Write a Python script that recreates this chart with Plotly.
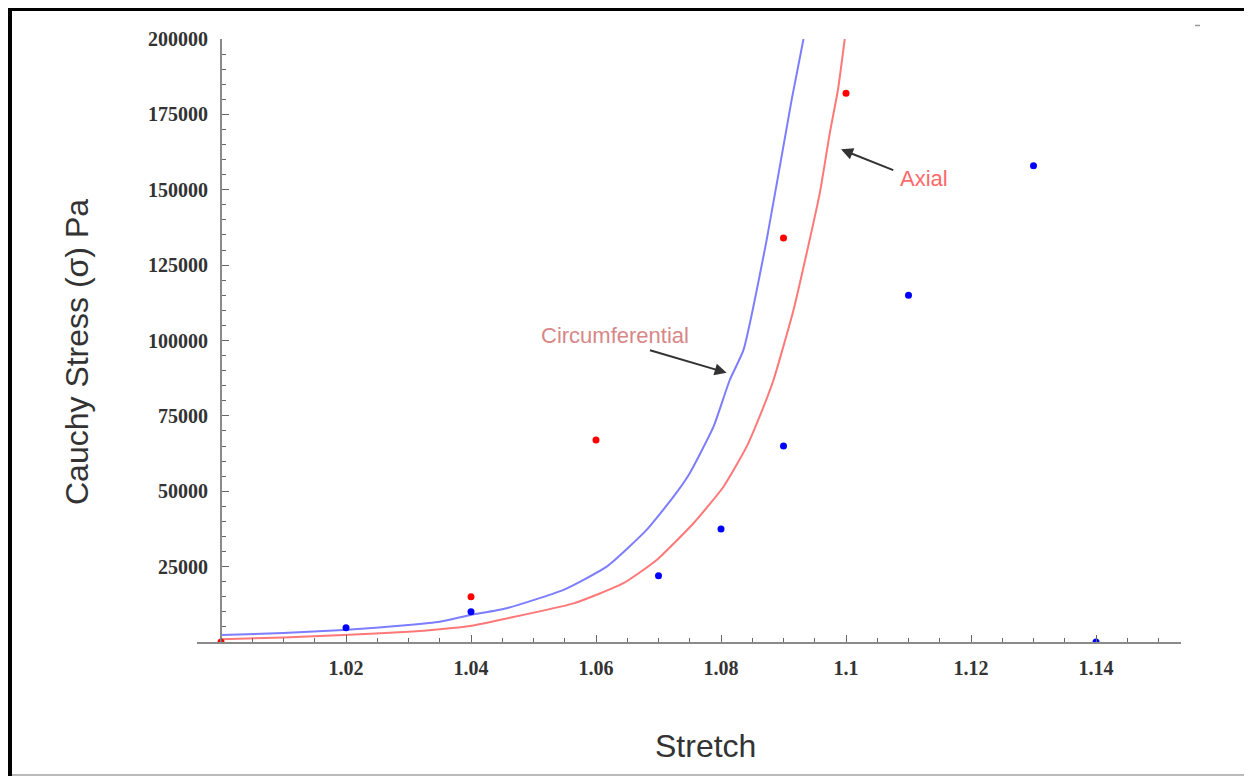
import plotly.graph_objects as go

# ---------------- data ----------------
axial_pts_x = [1.00, 1.04, 1.06, 1.09, 1.10]
axial_pts_y = [0, 15000, 67000, 134000, 182000]

circ_pts_x = [1.02, 1.04, 1.07, 1.08, 1.09, 1.11, 1.13, 1.14]
circ_pts_y = [4700, 10000, 22000, 37500, 65000, 115000, 158000, 0]

circ_curve_x = [1.000, 1.010, 1.0196, 1.030, 1.035, 1.0398, 1.0457, 1.0548, 1.0617,
                1.0681, 1.0724, 1.0750, 1.0788, 1.0814, 1.0836, 1.0873, 1.0913, 1.0932]
circ_curve_y = [2300, 3000, 4000, 5600, 6700, 8900, 11200, 17300, 25000,
                37200, 48200, 56000, 71400, 86900, 96900, 133300, 179800, 200000]

axial_curve_x = [1.000, 1.010, 1.0196, 1.030, 1.035, 1.0398, 1.0457, 1.0564, 1.0644,
                 1.0697, 1.0756, 1.0804, 1.0841, 1.0868, 1.0884, 1.0916, 1.0958,
                 1.0974, 1.0987, 1.0998]
axial_curve_y = [900, 1500, 2300, 3400, 4200, 5300, 7800, 12800, 19500,
                 27200, 39400, 51500, 64800, 78000, 86900, 110100, 148800,
                 168700, 183000, 200000]

x_tick_vals = [1.02, 1.04, 1.06, 1.08, 1.10, 1.12, 1.14]
x_tick_text = ["1.02", "1.04", "1.06", "1.08", "1.1", "1.12", "1.14"]
y_tick_vals = [25000, 50000, 75000, 100000, 125000, 150000, 175000, 200000]
y_tick_text = ["25000", "50000", "75000", "100000", "125000", "150000", "175000", "200000"]

x_label = "Stretch"
y_label = "Cauchy Stress (σ) Pa"

# ---------------- layout geometry ----------------
OFF = 8                                   # page body margin
W, H = 1252 - OFF, 776 - OFF
PL, PR, PT, PB = 197, 1181, 39, 642       # plot area in window pixels
X_RANGE = [0.99616, 1.15360]
Y_RANGE = [0, 200000]


def px(xp):
    return (xp - PL) / (PR - PL)


def py(yp):
    return (PB - yp) / (PB - PT)


AXIS_COL = "#8a8a8a"
TICK_FONT = dict(family="Liberation Serif", size=20, color="#333333", weight="bold")

fig = go.Figure()

fig.add_trace(go.Scatter(x=circ_curve_x, y=circ_curve_y, mode="lines",
                         line=dict(color="rgb(125,125,255)", width=2,
                                   shape="spline", smoothing=0.5), showlegend=False))
fig.add_trace(go.Scatter(x=axial_curve_x, y=axial_curve_y, mode="lines",
                         line=dict(color="rgb(255,120,120)", width=2,
                                   shape="spline", smoothing=0.5), showlegend=False))
fig.add_trace(go.Scatter(x=axial_pts_x, y=axial_pts_y, mode="markers",
                         marker=dict(color="rgb(255,0,0)", size=7), showlegend=False))
fig.add_trace(go.Scatter(x=circ_pts_x, y=circ_pts_y, mode="markers",
                         marker=dict(color="rgb(0,0,255)", size=7), showlegend=False))

fig.update_layout(
    width=W, height=H,
    margin=dict(l=PL - OFF, r=W - (PR - OFF), t=PT - OFF, b=H - (PB - OFF)),
    paper_bgcolor="white", plot_bgcolor="white",
    xaxis=dict(range=X_RANGE, showgrid=False, zeroline=False,
               showline=True, linecolor=AXIS_COL, linewidth=2,
               tickmode="array", tickvals=x_tick_vals, ticktext=x_tick_text,
               ticks="inside", ticklen=7, tickcolor="#666", tickwidth=1,
               ticklabelstandoff=7, tickfont=TICK_FONT,
               minor=dict(ticks="inside", ticklen=4, tickcolor="#666", dtick=0.005,
                          tick0=1.0, showgrid=False)),
    yaxis=dict(range=Y_RANGE, showgrid=False, zeroline=False,
               anchor="free", position=px(221), side="left",
               showline=True, linecolor=AXIS_COL, linewidth=2,
               tickmode="array", tickvals=y_tick_vals, ticktext=y_tick_text,
               ticks="inside", ticklen=7, tickcolor="#666", tickwidth=1,
               ticklabelstandoff=8, tickfont=TICK_FONT,
               minor=dict(ticks="inside", ticklen=4, tickcolor="#666", dtick=5000,
                          tick0=0, showgrid=False)),
)

ann = []
# axis titles
ann.append(dict(text=x_label, xref="paper", yref="paper", x=px(705), y=py(746),
                xanchor="center", yanchor="middle", showarrow=False,
                font=dict(family="Liberation Sans", size=32, color="#333")))
ann.append(dict(text=y_label, xref="paper", yref="paper", x=px(77), y=py(352),
                xanchor="center", yanchor="middle", showarrow=False, textangle=-90,
                font=dict(family="Liberation Sans", size=32, color="#333")))
# curve labels
ann.append(dict(text="Circumferential", x=1.0630, y=101500, xanchor="center",
                yanchor="middle", showarrow=False,
                font=dict(family="Liberation Sans", size=22, color="rgb(215,135,135)")))
ann.append(dict(text="Axial", x=1.1124, y=153600, xanchor="center",
                yanchor="middle", showarrow=False,
                font=dict(family="Liberation Sans", size=22, color="rgb(255,105,105)")))
# arrows
ann.append(dict(text="", x=1.0809, y=89300, ax=1.0684, ay=96900, axref="x", ayref="y",
                showarrow=True, arrowhead=2, arrowsize=1.2, arrowwidth=2,
                arrowcolor="#333"))
ann.append(dict(text="", x=1.0992, y=163400, ax=1.1078, ay=156300, axref="x", ayref="y",
                showarrow=True, arrowhead=2, arrowsize=1.2, arrowwidth=2,
                arrowcolor="#333"))
fig.update_layout(annotations=ann)

# frame around the picture
shapes = [
    dict(type="line", xref="paper", yref="paper", x0=px(9.5), x1=px(9.5),
         y0=py(5), y1=py(776), line=dict(color="black", width=5)),
    dict(type="line", xref="paper", yref="paper", x0=px(7), x1=px(1251),
         y0=py(8), y1=py(8), line=dict(color="black", width=6)),
    dict(type="line", xref="paper", yref="paper", x0=px(1249.5), x1=px(1249.5),
         y0=py(5), y1=py(776), line=dict(color="black", width=3)),
    dict(type="line", xref="paper", yref="paper", x0=px(12), x1=px(1248),
         y0=py(775), y1=py(775), line=dict(color="#bbbbbb", width=2)),
    dict(type="line", xref="paper", yref="paper", x0=px(1195), x1=px(1200),
         y0=py(25.5), y1=py(25.5), line=dict(color="#999999", width=1.5)),
]
fig.update_layout(shapes=shapes)

fig.write_html("out.html")
